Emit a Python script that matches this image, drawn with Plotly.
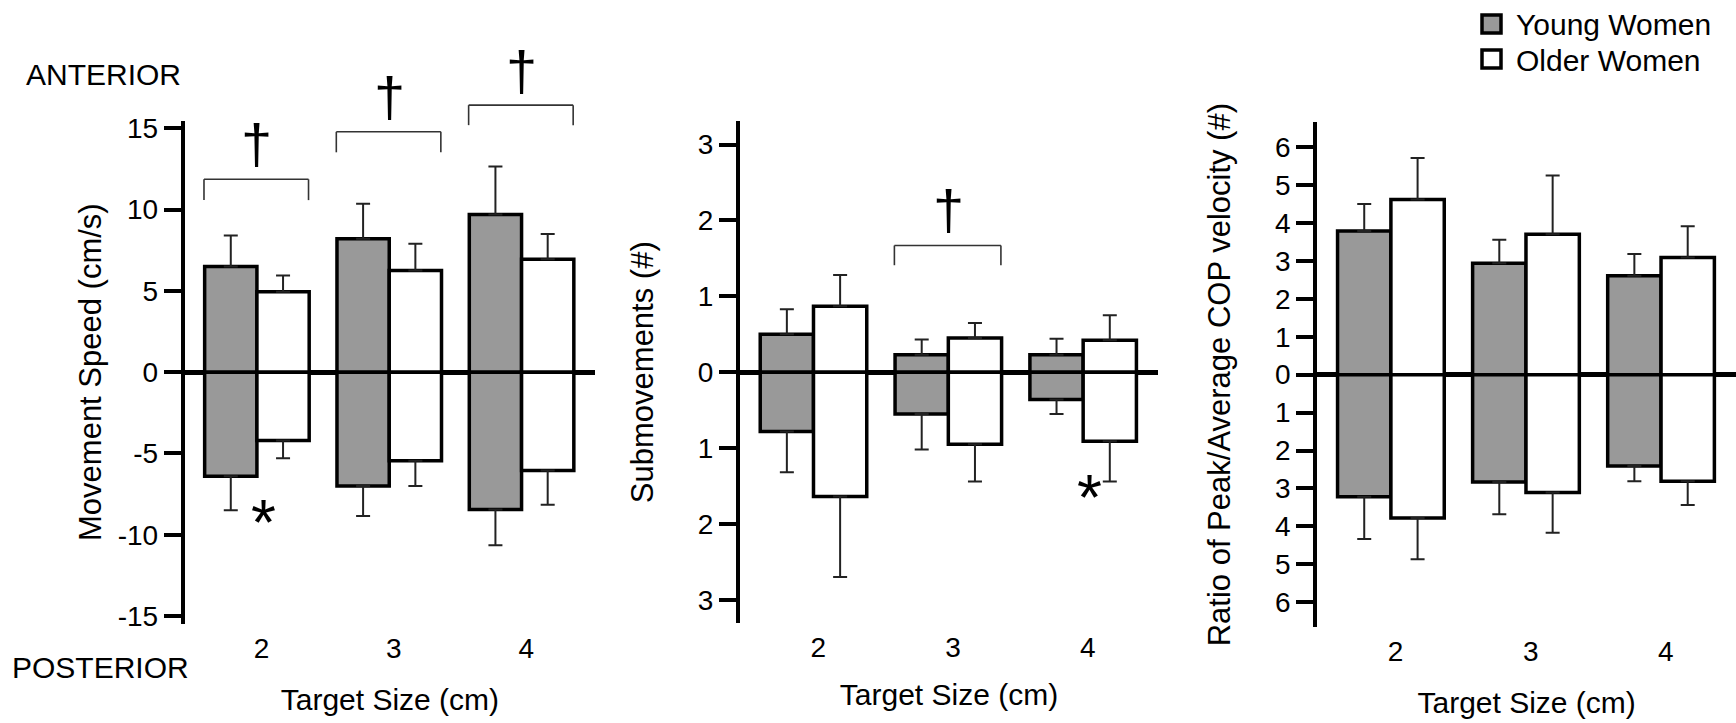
import numpy as np
import plotly.graph_objects as go

# ---------------- data ----------------
cats = [2, 3, 4]
x_tick_labels = ["2", "3", "4"]

# Movement speed (cm/s): anterior (+) / posterior (-) means and SDs
speed_young_ant = [6.5, 8.2, 9.7]
speed_young_ant_sd = [1.9, 2.15, 2.95]
speed_young_post = [-6.4, -7.0, -8.45]
speed_young_post_sd = [2.1, 1.85, 2.2]
speed_older_ant = [4.95, 6.25, 6.95]
speed_older_ant_sd = [1.0, 1.65, 1.55]
speed_older_post = [-4.2, -5.45, -6.05]
speed_older_post_sd = [1.1, 1.55, 2.1]

# Submovements (#)
sub_young_ant = [0.50, 0.23, 0.23]
sub_young_ant_sd = [0.33, 0.20, 0.21]
sub_young_post = [-0.78, -0.55, -0.36]
sub_young_post_sd = [0.54, 0.47, 0.19]
sub_older_ant = [0.87, 0.45, 0.42]
sub_older_ant_sd = [0.41, 0.20, 0.33]
sub_older_post = [-1.64, -0.95, -0.91]
sub_older_post_sd = [1.06, 0.49, 0.53]

# Ratio of peak/average COP velocity (#)
ratio_young_ant = [3.79, 2.94, 2.61]
ratio_young_ant_sd = [0.71, 0.62, 0.57]
ratio_young_post = [-3.22, -2.83, -2.41]
ratio_young_post_sd = [1.11, 0.85, 0.40]
ratio_older_ant = [4.62, 3.70, 3.09]
ratio_older_ant_sd = [1.09, 1.55, 0.82]
ratio_older_post = [-3.78, -3.11, -2.81]
ratio_older_post_sd = [1.09, 1.06, 0.63]

speed_ticks = [-15, -10, -5, 0, 5, 10, 15]
speed_tick_labels = ["-15", "-10", "-5", "0", "5", "10", "15"]
sub_ticks = [-3, -2, -1, 0, 1, 2, 3]
sub_tick_labels = ["3", "2", "1", "0", "1", "2", "3"]
ratio_ticks = [-6, -5, -4, -3, -2, -1, 0, 1, 2, 3, 4, 5, 6]
ratio_tick_labels = ["6", "5", "4", "3", "2", "1", "0", "1", "2", "3", "4", "5", "6"]

series_names = ["Young Women", "Older Women"]

# significance marks: (category, bracket top, bracket leg bottom, dagger y)
speed_brackets = [(2, 11.86, 10.58, 14.05), (3, 14.78, 13.52, 16.94), (4, 16.42, 15.19, 18.58)]
sub_brackets = [(3, 1.67, 1.41, 2.15)]
# asterisks: (category, y)
speed_stars = [(2, -8.39)]
sub_stars = [(4, -1.47)]

# ---------------- style ----------------
W, H = 1736, 723
FONT = "Liberation Sans, Arial, sans-serif"
GRAY = "#999999"
BAR_W = 0.395
SHIFT = -0.035  # pair boundary relative to tick
XRANGE = [2 + SHIFT - 0.545, 2 + SHIFT + 2.555]
TICK_SIZE = 28
TITLE_SIZE = 31
TEXT_SIZE = 30


def px_x(px):
    return px / W


def px_y(py):
    return 1 - py / H


def dom(v, rng):
    return (v - rng[0]) / (rng[1] - rng[0])


panels = [
    dict(
        young=(speed_young_ant, speed_young_ant_sd, speed_young_post, speed_young_post_sd),
        older=(speed_older_ant, speed_older_ant_sd, speed_older_post, speed_older_post_sd),
        ticks=speed_ticks, labels=speed_tick_labels, yrange=[-15.47, 15.47],
        title="Movement Speed (cm/s)", ystand=8, xstand=26,
        xdom=[px_x(184.8), px_x(595)], ydom=[px_y(623.7), px_y(120.6)],
        brackets=speed_brackets, stars=speed_stars,
    ),
    dict(
        young=(sub_young_ant, sub_young_ant_sd, sub_young_post, sub_young_post_sd),
        older=(sub_older_ant, sub_older_ant_sd, sub_older_post, sub_older_post_sd),
        ticks=sub_ticks, labels=sub_tick_labels, yrange=[-3.311, 3.311],
        title="Submovements (#)", ystand=36, xstand=21,
        xdom=[px_x(740), px_x(1158)], ydom=[px_y(623.4), px_y(121)],
        brackets=sub_brackets, stars=sub_stars,
    ),
    dict(
        young=(ratio_young_ant, ratio_young_ant_sd, ratio_young_post, ratio_young_post_sd),
        older=(ratio_older_ant, ratio_older_ant_sd, ratio_older_post, ratio_older_post_sd),
        ticks=ratio_ticks, labels=ratio_tick_labels, yrange=[-6.656, 6.656],
        title="Ratio of Peak/Average COP velocity (#)", ystand=36, xstand=25,
        xdom=[px_x(1317.3), 1.0], ydom=[px_y(627.1), px_y(122.2)],
        brackets=[], stars=[],
    ),
]

fig = go.Figure()
annotations = []
shapes = []
cat_arr = np.array(cats, dtype=float)

for i, p in enumerate(panels):
    xa = "x" if i == 0 else f"x{i + 1}"
    ya = "y" if i == 0 else f"y{i + 1}"
    for name, key, color, side in [(series_names[0], "young", GRAY, -1), (series_names[1], "older", "white", 1)]:
        ant, ant_sd, post, post_sd = p[key]
        xpos = cat_arr + SHIFT + side * BAR_W / 2
        zeros = [0] * len(cats)
        for vals, up, down in [(ant, ant_sd, zeros), (post, zeros, post_sd)]:
            fig.add_trace(go.Bar(
                x=xpos, y=vals, width=BAR_W, name=name, showlegend=False,
                marker=dict(color=color, line=dict(color="black", width=3.5)),
                error_y=dict(type="data", symmetric=False, array=up, arrayminus=down,
                             color="#222222", thickness=2, width=7),
                xaxis=xa, yaxis=ya, hoverinfo="skip",
            ))
    # brackets and daggers (drawn in axis-domain coordinates so they may sit above the plot area)
    line_style = dict(color="#333333", width=1.6)
    for (c, top, leg, dag) in p["brackets"]:
        b = c + SHIFT
        xl, xr = dom(b - 0.40, XRANGE), dom(b + 0.39, XRANGE)
        yt, yl = dom(top, p["yrange"]), dom(leg, p["yrange"])
        for (x0, y0, x1, y1) in [(xl, yl, xl, yt), (xl, yt, xr, yt), (xr, yt, xr, yl)]:
            shapes.append(dict(type="line", xref=f"{xa} domain", yref=f"{ya} domain",
                               x0=x0, y0=y0, x1=x1, y1=y1, line=line_style))
        annotations.append(dict(x=dom(b, XRANGE), y=dom(dag, p["yrange"]),
                                xref=f"{xa} domain", yref=f"{ya} domain", text="\u2020", showarrow=False,
                                font=dict(family=FONT, size=56, color="black"),
                                xanchor="center", yanchor="middle"))
    for (c, ys) in p["stars"]:
        annotations.append(dict(x=dom(c + SHIFT + 0.05, XRANGE), y=dom(ys, p["yrange"]),
                                xref=f"{xa} domain", yref=f"{ya} domain", text="*", showarrow=False,
                                font=dict(family=FONT, size=64, color="black"),
                                xanchor="center", yanchor="middle", yshift=-14))

    xkey = "xaxis" if i == 0 else f"xaxis{i + 1}"
    ykey = "yaxis" if i == 0 else f"yaxis{i + 1}"
    fig.update_layout(**{
        xkey: dict(domain=p["xdom"], anchor=ya, range=XRANGE, tickvals=cats, ticktext=x_tick_labels,
                   showline=False, showgrid=False, zeroline=False, ticks="", ticklabelstandoff=5,
                   tickfont=dict(family=FONT, size=TICK_SIZE, color="black"),
                   title=dict(text="Target Size (cm)", font=dict(family=FONT, size=TEXT_SIZE, color="black"),
                              standoff=p["xstand"]),
                   automargin=False),
        ykey: dict(domain=p["ydom"], anchor=xa, range=p["yrange"], tickvals=p["ticks"], ticktext=p["labels"],
                   showline=True, linewidth=4, linecolor="black", showgrid=False,
                   zeroline=True, zerolinewidth=4.5, zerolinecolor="black",
                   ticks="outside", ticklen=17, tickwidth=4, tickcolor="black",
                   tickfont=dict(family=FONT, size=TICK_SIZE, color="black"),
                   title=dict(text=p["title"], font=dict(family=FONT, size=TITLE_SIZE, color="black"),
                              standoff=p["ystand"]),
                   automargin=False),
    })

# ANTERIOR / POSTERIOR labels
annotations.append(dict(x=px_x(103), y=px_y(75), xref="paper", yref="paper", text="ANTERIOR",
                        showarrow=False, font=dict(family=FONT, size=TEXT_SIZE, color="black"),
                        xanchor="center", yanchor="middle"))
annotations.append(dict(x=px_x(100.5), y=px_y(667), xref="paper", yref="paper", text="POSTERIOR",
                        showarrow=False, font=dict(family=FONT, size=TEXT_SIZE, color="black"),
                        xanchor="center", yanchor="middle"))

# legend (custom)
for k, (name, color) in enumerate(zip(series_names, [GRAY, "white"])):
    cy = 24 + k * 35
    shapes.append(dict(type="rect", xref="paper", yref="paper",
                       x0=px_x(1482), x1=px_x(1501), y0=px_y(cy + 9), y1=px_y(cy - 9),
                       fillcolor=color, line=dict(color="black", width=3.5)))
    annotations.append(dict(x=px_x(1514), y=px_y(cy + 1), xref="paper", yref="paper", text=name,
                            showarrow=False, font=dict(family=FONT, size=TEXT_SIZE, color="black"),
                            xanchor="left", yanchor="middle"))

fig.update_layout(
    width=W, height=H, template="none",
    margin=dict(l=0, r=0, t=0, b=0),
    paper_bgcolor="white", plot_bgcolor="rgba(0,0,0,0)",
    barmode="overlay", showlegend=False,
    annotations=annotations, shapes=shapes,
    font=dict(family=FONT, color="black"),
)

fig.write_html("out.html", config={"displayModeBar": False},
               post_script="document.body.style.margin='0';document.body.style.overflow='hidden';")
